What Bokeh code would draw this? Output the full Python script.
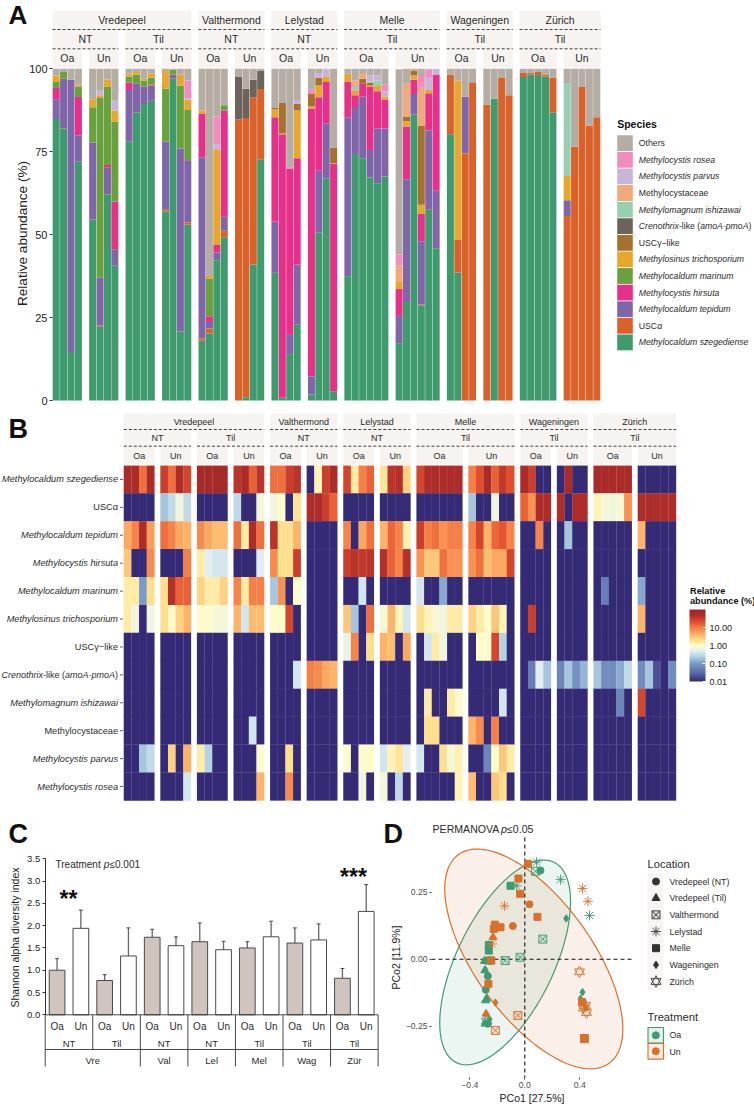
import numpy as np
from bokeh.embed import file_html
from bokeh.resources import INLINE
from bokeh.plotting import figure
from bokeh.layouts import column, row
from bokeh.models import (ColumnDataSource, Range1d, FixedTicker, NumeralTickFormatter,
                          LogColorMapper, ColorBar)
from bokeh.core.properties import value

F = "Liberation Sans"

# ---------- shared facet structure ----------
group_sizes = [4, 4, 4, 4, 4, 4, 4, 4, 6, 6, 4, 4, 5, 5]
group_treat = ["Oa", "Un"] * 7
group_till = ["NT", "NT", "Til", "Til", "NT", "NT", "NT", "NT", "Til", "Til", "Til", "Til", "Til", "Til"]
group_loc = ["Vredepeel"] * 4 + ["Valthermond"] * 2 + ["Lelystad"] * 2 + ["Melle"] * 2 + ["Wageningen"] * 2 + ["Zürich"] * 2

species_labels = ["Methylocaldum szegediense", "USCα", "Methylocaldum tepidum", "Methylocystis hirsuta",
                  "Methylocaldum marinum", "Methylosinus trichosporium", "USCγ−like",
                  "Crenothrix-like (amoA-pmoA)", "Methylomagnum ishizawai", "Methylocystaceae",
                  "Methylocystis parvus", "Methylocystis rosea", "Others"]
species_colors = ["#3F9A6E", "#D9622B", "#8066A8", "#E6308A", "#6AA13F", "#E7A62E", "#A6712C",
                  "#6E635A", "#97CFB0", "#EEAA7B", "#C6B5D9", "#F08DBD", "#B5ACA4"]

# ---------- panel A: relative abundance per sample (bottom to top) ----------
szegediense = [84.9, 82, 14.6, 72, 54.6, 22.4, 62.2, 40.6, 78, 86.9, 89.4, 90.4, 57, 97, 20.8, 53,
               18, 20.2, 42.3, 49.2, 0, 1, 41, 72.7, 38.5, .8, 14, 23, 1.8, 50.6, 67, 2.8,
               37.5, 74.3, 73, 67.2, 65.5, 67.5, 17.3, 29.7, 86.2, 28.7, 57.5, 45.9,
               80.3, 38.6, 0, 0, 0, 91, 0, 0, 97.5, 98.3, 98.1, 97.7, 86.9, 0, 0, 0, 0, 0]
usc_alpha = [0, 0, 0, 0, 0, .3, 0, 0, 0, 0, 0, 0, .5, 0, 0, .7,
             .7, 1.5, 0, 2, 84.7, 84.2, 50.4, 21.2, 0, 0, 0, 0, 0, 0, 0, 0,
             0, 0, 0, 0, 0, 0, 0, 0, 0, .2, 0, 0,
             18, 9.8, 74.5, 95.7, 89.2, 0, 97.2, 92, 1.2, .6, .9, .6, 10.4, 55.6, 76.5, 94.5, 82.8, 85.4]
tepidum = [5.8, 15, 82.1, 8, 23.2, 14.3, 8, 5, 15.6, 8.6, 5.1, 4.6, 20.5, 1.3, 55.2, 18.6,
           54.6, 2, 2.3, 4.2, 0, 0, 0, 0, 15.5, 0, 6, 18, 5.5, 18.7, 16.6, 0,
           47.9, 14.2, 18.6, 8.3, 16.5, 14.5, 8.2, 37, 6.2, 19.1, 23.9, 17.3,
           0, 0, 17.1, 0, 0, 0, 0, 0, 0, 0, 0, 0, 0, 4.8, 0, 0, 0, 0]
hirsuta = [3.5, 0, 0, 11.5, 0, 0, .8, 14.4, 2.3, 0, .2, .2, 0, 0, 0, .2,
           13.1, 1.7, 2.3, 32, 0, 0, 0, 0, 31.4, 79.5, 49.8, 32, 80.7, 22.1, 12.4, 68.5,
           10.8, 3.5, 3.9, 19, 11.2, 8.6, 8.1, 15.9, 4.3, 8.2, 11.2, 35.1,
           0, 0, 0, 0, 0, 0, 0, 0, 0, 0, 0, 0, 0, 0, 0, 0, 0, 0]
marinum = [1.8, 2, 0, 3.2, 10.6, 54.2, 23.7, 24, 1.8, 2.7, 1.8, 2.1, 16, 1.5, 19, 15.1,
           0, 11.2, 0, 1.6] + [0] * 42
trichosporium = [2, 0, 0, .5, 2.4, .8, 2.1, 3.4, .8, .8, .5, 1.2, 5.3, 0, 3.3, 3.1,
                 1, .9, 28.6, 0, 0, 0, 0, 0, 2.5, .2, 0, 14.4, .6, 3.6, 1.5, .2,
                 2.3, 1.5, 0, .5, 1.6, 1, 2.4, 1.6, 1.3, 2.8, 1, 0,
                 0, 48.1, 0, 0, 0, 0, 0, 0, 0, 0, 0, 0, 0, 7.3, 0, 0, 0, 0]
usc_gamma = [0] * 24 + [.3, 9.2, 0, 2, 3.8, 2.3, 0, 4.8, 0, 0, 1.5, .7, 0, 0, 0, 1.4, 1.5, 23.9, 0, 0] + [0] * 18
crenothrix = [0] * 20 + [12.8, 8.8, 5.3, 5.4] + [0] * 38
ishizawai = [0] * 32 + [0, 1.3, 0, .5, 1.7, 0] + [0] * 19 + [28, 0, 0, 0, 0]
cystaceae = [0] * 32 + [0, 1.7, 1.7, 0, 0, 0, 4.8, 9.9, 0, 11.4, 0, 0] + [0] * 18
parvus = [0] * 5 + [1.6, 0, 3] + [0] * 7 + [.3, 0, 0, 1.8] + [0] * 8 + [1.2, 0, 1.2, 2.3] + [0] * 4 + [1.8, 1.5, 1.6] + [0] * 4 + [3.7, 1.7] + [0] * 18
rosea = [0] * 15 + [5.5, 0, 0, 8.3] + [0] * 7 + [.5, 0, 1.3] + [0] * 8 + [2, 3.2, 0, 0, 3.5, 2.5] + [0] * 19
others = [2, 1, 3.3, 4.8, 9.2, 6.4, 3.2, 9.6, 1.5, 1, 3, 1.5, .7, .2, 1.7, 3.5,
          12.6, 62.5, 14.4, 11, 2.5, 6, 3.3, .7, 11.8, 10.3, 29.7, 9.4, 6.3, 1.5, .2, 23.7,
          1.5, 3.5, 1.3, 2, 2, 4.8, 55.9, 4.5, .5, 2.2, .2, 0,
          1.7, 3.5, 8.4, 4.3, 10.8, 9, 2.8, 8, 1.3, 1.1, 1, 1.7, 2.7, 4.3, 23.5, 5.5, 17.2, 14.6]
stack_series = [szegediense, usc_alpha, tepidum, hirsuta, marinum, trichosporium, usc_gamma,
                crenothrix, ishizawai, cystaceae, parvus, rosea, others]

# ---------- panel B: heat map rows (%), 0.01 = not detected ----------
N = 0.01
h_szeg = [60, 60, 12, 60, 30, 12, 50, 25, 65, 65, 65, 65, 40, 60, 15, 40, 12, 12, 30, 40, N, 1.2, 30, 60,
          25, 1.5, 10, 15, 1.8, 40, 45, 2.5, 25, 50, 50, 50, 50, 50, 10, 20, 55, 15, 35, 20,
          60, 30, N, N, N, 60, N, N, 60, 60, 60, 60, 60, N, N, N, N, N]
h_uscA = [N, N, N, N, .2, .3, .7, .3, N, N, N, N, .3, N, N, .8, .7, 1, N, 1.8, 50, 50, 30, 15,
          N, N, N, N, N, N, N, N, N, N, N, N, N, N, .2, N, N, .7, N, N,
          15, 7, 50, 50, 50, N, 50, 50, 1.2, .8, .7, .8, 7, 50, 50, 50, 50, 50]
h_tep = [5, 9, 50, 6, 12, 9, 5, 4, 8, 5, 3.5, 3.5, 12, 1.5, 50, 12, 40, 2, 2, 4, N, N, N, N,
         9, N, 5, 12, 4, 14, 9, 1.3, 30, 10, 12, 7, 10, 10, 9, 25, 4, 14, 18, 9,
         N, N, 9, N, N, .2, N, N, N, N, N, N, N, 4, N, N, N, N]
h_hir = [3, N, N, 8, N, N, N, 10, 1.5, .5, .4, .4, N, N, N, .5, 8, 2, 2, 30, N, N, N, N,
         30, 40, 35, 40, 45, 15, 9, 45, 7, 3, 3, 12, 7, 7, 7, 12, 3.5, 5, 5, 25,
         N, N, N, N, N, N, N, N, N, N, N, N, N, N, N, N, N, N]
h_mar = [1.5, 1.5, .1, 2, 2, 45, 15, 15, 2.5, 1.5, 1.5, 2.5, 9, 1.5, 10, 10, .2, 7, N, 1, N, N, N, N,
         N, N, .4, N, N, N, N, N, .4, N, N, .12, N, N, N, N, N, N, N, N,
         N, N, N, N, N, N, N, N, N, .05, N, N, N, .12, N, N, N, N]
h_tri = [1.5, .7, N, .7, 2, 1, 2.5, 4, 1, 1, .8, .8, 4, .4, 3.5, 3.5, 1, 1, 25, N, N, N, N, N,
         3, .2, N, 12, .8, 4, 1.2, .4, 2, 1.2, .8, .7, 1.5, 1.5, 2.5, 1.5, 1, 3, 1.2, N,
         N, 30, N, N, N, N, N, N, N, N, N, N, N, 4, N, N, N, N]
h_uscG = [N] * 24 + [.6, 9, N, 2, 4, 3.5, N, 5, N, .4, 1.5, .7, N, N, N, 1, 1, 25, .25, N] + [N] * 18
h_cren = [N] * 19 + [.4, 10, 8, 5, 4] + [N] * 20 + [N, .05, .5, .2, .06, .2, .08, .15, .2, .07, .07, .13, .3, .07, .2, .02, N, .07]
h_ishi = [N] * 33 + [1.5, N, N, 1.5, .9, N, N, N, N, .4, N] + [N] * 11 + [.06, N, 25, N, N, N, N]
h_cyst = [N] * 14 + [.4] + [N] * 18 + [2, 2, N, N, N, 4, 8, N, 10, N, N] + [N] * 18
h_parv = [N, N, .2, .3, N, 2.5, N, 4, 1.5, .25, N, N, N, N, N, 1, N, N, 2, N, N, N, N, N,
          1, N, 1, 1, .4, 1.2, 1.8, .5, .4, N, N, 2, .8, 1.3, N, N, .06, 1, 3, 1.5] + [N] * 18
h_rose = [N, N, N, N, N, N, N, .4, N, N, N, N, N, N, N, 4, N, N, 8, N, N, N, N, N,
          N, N, .7, N, .8, N, .3, N, N, N, N, N, N, 1.2, 3.5, N, N, 3, 2, N] + [N] * 18
heat_rows = [h_szeg, h_uscA, h_tep, h_hir, h_mar, h_tri, h_uscG, h_cren, h_ishi, h_cyst, h_parv, h_rose]
heat_labels = species_labels[:12]

# ---------- panel C ----------
shannon_oa = [1.0, .77, 1.74, 1.64, 1.5, 1.61, .82]
shannon_un = [1.94, 1.32, 1.55, 1.46, 1.75, 1.68, 2.32]
top_oa = [1.26, .9, 1.92, 2.06, 1.64, 1.95, 1.04]
top_un = [2.35, 1.95, 1.75, 1.65, 2.1, 2.04, 2.92]
c_till = ["NT", "Til", "NT", "NT", "Til", "Til", "Til"]
c_locs = ["Vre", "Val", "Lel", "Mel", "Wag", "Zür"]
c_loc_pairs = [2, 1, 1, 1, 1, 1]

# ---------- panel D: PCoA scores per location / treatment ----------
oa_vre_nt = ([.114, -.269, -.284, -.269], [.331, -.063, -.114, -.241])
oa_vre_til = ([-.286, -.279, -.289, -.291, -.294], [-.154, -.148, -.241, -.042, -.007])
oa_val = ([.078, .131, -.034, -.143], [.328, .075, .007, -.005])
oa_lel = ([.085, -.061, .26, .471], [.362, .274, .297, .163])
oa_mel = ([-.104, -.262, -.262, -.269, -.245], [.274, .053, .032, -.005, -.005])
oa_wag = ([.301, .42, .405, -.286, -.257], [.152, -.123, -.148, -.04, -.225])
oa_zur = ([-.279], [-.231])
un_vre_nt = ([.034, -.087], [.205, .124])
un_vre_til = ([-.231, -.282], [.082, -.204])
un_val = ([-.051, -.214, .434], [-.21, -.266, -.296])
un_lel = ([-.148, .42, .459, -.238], [.199, .264, .216, .057])
un_mel = ([.024, -.046, -.034, .092, -.218, -.226, -.177, -.245, -.265, .434, .417],
          [.356, .301, .244, .158, .129, .113, .119, -.005, -.092, -.296, -.16])
un_wag = ([-.214, .442], [-.162, -.179])
un_zur = ([.398, .442, .425, .449], [-.047, -.173, -.182, -.199])
loc_names = ["Vredepeel (NT)", "Vredepeel (Til)", "Valthermond", "Lelystad", "Melle", "Wageningen", "Zürich"]
oa_pts = [oa_vre_nt, oa_vre_til, oa_val, oa_lel, oa_mel, oa_wag, oa_zur]
un_pts = [un_vre_nt, un_vre_til, un_val, un_lel, un_mel, un_wag, un_zur]
GREEN, ORANGE = "#3F9A72", "#D8702C"
# ellipse: centre x, half width, centre y, half height, cos(phase)
ell_oa = (-.143, .476, -.012, .382, .592)
ell_un = (.0655, .648, .001, .41, -.637)

STRIP = "#F6F3F0"
TXT = "#2b2b2b"


def put(p, x, y, text, size, align="left", color=TXT, style="normal", angle=0.0):
    p.text(x=[x], y=[y], text=[text], text_font=value(F), text_font_size=size, text_align=align,
           text_baseline="middle", text_color=color, text_font_style=style, angle=angle)


def base(w, h, xr, yr):
    p = figure(width=w, height=h, output_backend="svg", toolbar_location=None,
               x_range=Range1d(*xr), y_range=Range1d(*yr),
               min_border_left=0, min_border_right=0, min_border_top=0, min_border_bottom=0)
    p.outline_line_color = None
    p.grid.visible = False
    return p


def layout_x(gap):
    """left/right edge of each facet group in bar units."""
    lefts, rights = [], []
    x = 0.0
    for n in group_sizes:
        lefts.append(x)
        rights.append(x + n)
        x += n + gap
    return lefts, rights


def strips(p, lefts, rights, rows, size):
    """rows = (y_loc_top, y_loc_bot, y_till_bot, y_treat_bot) in data units."""
    t0, t1, t2, t3 = rows
    dash_col = "#111111"
    for l, r, tr in zip(lefts, rights, group_treat):
        p.quad(left=[l], right=[r], bottom=[t3], top=[t2], fill_color=STRIP, line_color=None)
        put(p, (l + r) / 2, (t2 + t3) / 2, tr, size, "center")
    i = 0
    while i < len(group_sizes):
        j = i
        while j + 1 < len(group_sizes) and group_loc[j + 1] == group_loc[i] and group_till[j + 1] == group_till[i]:
            j += 1
        p.quad(left=[lefts[i]], right=[rights[j]], bottom=[t2], top=[t1], fill_color=STRIP, line_color=None)
        put(p, (lefts[i] + rights[j]) / 2, (t1 + t2) / 2, group_till[i], size, "center")
        p.segment(x0=[lefts[i]], x1=[rights[j]], y0=[t2], y1=[t2], line_color=dash_col, line_width=.8, line_dash="3 2")
        i = j + 1
    i = 0
    while i < len(group_sizes):
        j = i
        while j + 1 < len(group_sizes) and group_loc[j + 1] == group_loc[i]:
            j += 1
        p.quad(left=[lefts[i]], right=[rights[j]], bottom=[t1], top=[t0], fill_color=STRIP, line_color=None)
        put(p, (lefts[i] + rights[j]) / 2, (t0 + t1) / 2, group_loc[i], size, "center")
        p.segment(x0=[lefts[i]], x1=[rights[j]], y0=[t1], y1=[t1], line_color=dash_col, line_width=.8, line_dash="3 2")
        i = j + 1


def crenothrix_label(p, x, y, size_px, unit, right=False):
    ems = [4.612, 2.444, 5.557, .333]
    parts = ["Crenothrix", "-like (", "amoA-pmoA", ")"]
    styles = ["italic", "normal", "italic", "normal"]
    total = sum(ems) * size_px / unit
    cur = x - total if right else x
    for e, t, s in zip(ems, parts, styles):
        put(p, cur, y, t, f"{size_px}px", "left", style=s)
        cur += e * size_px / unit


def is_italic(name):
    return name.startswith("Methyl") and name != "Methylocystaceae"


def style_axis(ax, size, color, out):
    ax.major_tick_in = 0
    ax.major_tick_out = out
    ax.minor_tick_line_color = None
    ax.major_label_text_font = F
    ax.major_label_text_font_size = size
    ax.major_label_text_color = color
    ax.major_label_standoff = 2


HALF_PI = np.pi / 2

# ======================= PANEL A =======================
UA = 7.4
GAP_A = .927
XA = lambda px: (px - 52) / UA
YA = lambda py: (400 - py) / 3.317
pA = base(754, 410, (XA(0), XA(754)), (YA(410), YA(0)))
pA.xaxis.visible = False
pA.yaxis.fixed_location = 0
pA.yaxis.ticker = FixedTicker(ticks=[0, 25, 50, 75, 100])
pA.yaxis.axis_line_color = None
pA.yaxis.major_tick_line_color = "#333333"
style_axis(pA.yaxis[0], "11px", "#222222", 3)

lefts_a, rights_a = layout_x(GAP_A)
bar_x = []
for l, n in zip(lefts_a, group_sizes):
    bar_x += [l + k + .5 for k in range(n)]
names = [f"s{i}" for i in range(len(stack_series))]
src = ColumnDataSource({"x": bar_x, **{n: v for n, v in zip(names, stack_series)}})
pA.vbar_stack(names, x="x", width=.95, color=species_colors, source=src, line_color=None)
strips(pA, lefts_a, rights_a, (YA(10), YA(29), YA(48.3), YA(67.5)), "10.5px")
put(pA, XA(8), YA(14), "A", "26px", style="bold", color="#111111")
put(pA, XA(22), YA(233), "Relative abundance (%)", "13.6px", "center", "#222222", angle=HALF_PI)

put(pA, XA(616.7), YA(123.7), "Species", "10.5px", style="bold", color="#111111")
for i, (lab, col) in enumerate(zip(species_labels[::-1], species_colors[::-1])):
    cy = 142.7 + 16.6 * i
    pA.quad(left=[XA(616.7)], right=[XA(632.3)], top=[YA(cy - 7.9)], bottom=[YA(cy + 7.9)], fill_color=col, line_color=None)
    if lab.startswith("Crenothrix"):
        crenothrix_label(pA, XA(638.3), YA(cy), 8.7, UA)
    else:
        put(pA, XA(638.3), YA(cy), lab, "8.7px", style="italic" if is_italic(lab) else "normal")

# ======================= PANEL B =======================
UB = 7.67
GAP_B = .77
XB = lambda px: (px - 123.3) / UB
YB = lambda py: (800 - py) / 27.92
pB = base(754, 400, (XB(0), XB(754)), (YB(810), YB(410)))
pB.xaxis.visible = False
pB.yaxis.visible = False
lefts_b, rights_b = layout_x(GAP_B)
col_x = []
for l, n in zip(lefts_b, group_sizes):
    col_x += [l + k + .5 for k in range(n)]

anchors = [(-2, "#352A75"), (-1.5, "#5B6CAA"), (-1, "#7A9CC8"), (-.6, "#B5D3E4"), (-.3, "#E4EFF2"), (0, "#FFFBC9"),
           (.3, "#FEE08F"), (.6, "#FDB568"), (1, "#F47E47"), (1.3, "#E24F2D"), (1.7, "#AE2C29"), (2, "#9E2727")]
pos = np.array([a[0] for a in anchors], float)
rgb = np.array([[int(a[1][k:k + 2], 16) for k in (1, 3, 5)] for a in anchors], float)
t = np.linspace(-2, 2, 256)
palette = ["#%02x%02x%02x" % tuple(int(round(np.interp(tt, pos, rgb[:, c]))) for c in range(3)) for tt in t]
mapper = LogColorMapper(palette=palette, low=.01, high=100)

hx, hy, hv = [], [], []
for i, rowv in enumerate(heat_rows):
    hx += col_x
    hy += [11.5 - i] * len(col_x)
    hv += rowv
pB.rect(x="x", y="y", width=1.02, height=1.01, source=ColumnDataSource(dict(x=hx, y=hy, v=hv)),
        fill_color={"field": "v", "transform": mapper}, line_color=None)
strips(pB, lefts_b, rights_b, (YB(413), YB(429), YB(445.7), YB(465)), "9px")
put(pB, XB(8), YB(428), "B", "27px", style="bold", color="#111111")
for i, lab in enumerate(heat_labels):
    yy = 11.5 - i
    pB.segment(x0=[XB(119.5)], x1=[XB(122.5)], y0=[yy], y1=[yy], line_color="#333333", line_width=.8)
    if lab.startswith("Crenothrix"):
        crenothrix_label(pB, XB(117.5), yy, 9.0, UB, right=True)
    else:
        put(pB, XB(117.5), yy, lab, "9.2px", "right", style="italic" if is_italic(lab) else "normal")
cb = ColorBar(color_mapper=mapper, ticker=FixedTicker(ticks=[.01, .1, 1, 10]),
              formatter=NumeralTickFormatter(format="0.00"), width=16, height=72,
              location=(689, 129), padding=0, margin=0, major_label_text_font=F,
              major_label_text_font_size="9px", major_label_text_color="#222222", label_standoff=4,
              major_tick_line_color="white", major_tick_in=3, minor_tick_line_color=None,
              bar_line_color=None, background_fill_color=None, border_line_color=None)
pB.add_layout(cb)
put(pB, XB(689.5), YB(590.5), "Relative", "9.2px", style="bold", color="#111111")
put(pB, XB(689.5), YB(600.5), "abundance (%)", "9.2px", style="bold", color="#111111")

# ======================= PANEL C =======================
UC = 23.78
XC = lambda px: (px - 44.7) / UC
YC = lambda py: (1014.3 - py) / 44.57
pC = base(383, 294, (XC(0), XC(383)), (YC(1104), YC(810)))
pC.xaxis.visible = False
pC.yaxis.fixed_location = 0
pC.yaxis.ticker = FixedTicker(ticks=[0, .5, 1, 1.5, 2, 2.5, 3, 3.5])
pC.yaxis.bounds = (0, 3.5)
pC.yaxis.formatter = NumeralTickFormatter(format="0.0")
pC.yaxis.axis_line_color = "#333333"
pC.yaxis.major_tick_line_color = "#333333"
style_axis(pC.yaxis[0], "9.5px", "#222222", 3)

n_pairs = len(shannon_oa)
cx = [i * 2 + .5 for i in range(n_pairs)]
ux = [i * 2 + 1.5 for i in range(n_pairs)]
OUT = "#4a4a4a"
pC.segment(x0=cx + ux, x1=cx + ux, y0=shannon_oa + shannon_un, y1=top_oa + top_un, line_color="#666666", line_width=1.3)
pC.segment(x0=[v - .08 for v in cx + ux], x1=[v + .08 for v in cx + ux], y0=top_oa + top_un, y1=top_oa + top_un, line_color="#444444", line_width=1)
pC.vbar(x=cx, top=shannon_oa, bottom=0, width=.66, fill_color="#CFC5BE", line_color=OUT, line_width=1)
pC.vbar(x=ux, top=shannon_un, bottom=0, width=.66, fill_color="white", line_color=OUT, line_width=1)

y_oa, y_nt, y_loc = YC(1026), YC(1042.7), YC(1060)
y_line, y_end = YC(1049), YC(1066)
LINE = "#333333"
pC.segment(x0=[0, 0], x1=[2 * n_pairs, 2 * n_pairs], y0=[0, y_line], y1=[0, y_line], line_color=LINE, line_width=.9)
for i in range(n_pairs):
    put(pC, cx[i], y_oa, "Oa", "10px", "center")
    put(pC, ux[i], y_oa, "Un", "10px", "center")
    put(pC, i * 2 + 1, y_nt, c_till[i], "9.5px", "center")
edge = 0
seps = [0]
for lab, k in zip(c_locs, c_loc_pairs):
    put(pC, edge + k, y_loc, lab, "9.5px", "center")
    edge += 2 * k
    seps.append(edge)
pC.segment(x0=seps, x1=seps, y0=[0] * len(seps), y1=[y_end] * len(seps), line_color=LINE, line_width=.9)
pC.segment(x0=[2], x1=[2], y0=[0], y1=[y_line], line_color=LINE, line_width=.9)

put(pC, XC(8), YC(833), "C", "27px", style="bold", color="#111111")
put(pC, XC(14), YC(937), "Shannon alpha diversity index", "10.5px", "center", "#222222", angle=HALF_PI)
put(pC, XC(55), YC(864), "Treatment ", "10px")
put(pC, XC(103.3), YC(864), "p", "10px", style="italic")
put(pC, XC(109), YC(864), "≤0.001", "10px")
put(pC, XC(68), YC(898), "**", "23px", "center", style="bold", color="#111111")
put(pC, XC(353), YC(876), "***", "23px", "center", style="bold", color="#111111")

# ======================= PANEL D =======================
UDX, UDY = 137.4, 268.0
XD = lambda px: (px - 524.3) / UDX
YD = lambda py: (958.7 - py) / UDY
pD = base(371, 294, (XD(383), XD(754)), (YD(1104), YD(810)))
pD.xaxis.fixed_location = YD(1077)
pD.yaxis.fixed_location = XD(431)
for ax, ticks, ov in ((pD.xaxis[0], [-.4, 0, .4], {-.4: "−0.4", 0: "0.0", .4: "0.4"}),
                      (pD.yaxis[0], [-.25, 0, .25], {-.25: "−0.25", 0: "0.00", .25: "0.25"})):
    ax.ticker = FixedTicker(ticks=ticks)
    ax.major_label_overrides = ov
    ax.axis_line_color = None
    ax.major_tick_line_color = "#444444"
    style_axis(ax, "8.6px", "#4d4d4d", 2)
put(pD, XD(531.5), YD(1097.5), "PCo1 [27.5%]", "10.5px", "center", "#222222")
put(pD, XD(395), YD(957), "PCo2 [11.9%]", "10.5px", "center", "#222222", angle=HALF_PI)

tt = np.linspace(0, 2 * np.pi, 181)
for (ecx, erx, ecy, ery, cp), col in ((ell_oa, GREEN), (ell_un, ORANGE)):
    phi = np.arccos(cp)
    pD.patch(ecx + erx * np.cos(tt), ecy + ery * np.cos(tt - phi), fill_color=col, fill_alpha=.1,
             line_color=col, line_width=1.2)
pD.segment(x0=[0, XD(431)], x1=[0, XD(632)], y0=[YD(837), 0], y1=[YD(1077), 0], line_color="#111111",
           line_width=1.1, line_dash="4 3")


def marks(p, i, xs, ys, col):
    kw = dict(x=xs, y=ys)
    if i == 0:
        p.scatter(marker="circle", size=7, fill_color=col, line_color=col, **kw)
    elif i == 1:
        p.scatter(marker="triangle", size=8, fill_color=col, line_color=col, **kw)
    elif i == 2:
        p.scatter(marker="square_x", size=8, fill_color=col, fill_alpha=.15, line_color=col, line_width=.9, **kw)
    elif i == 3:
        p.scatter(marker="asterisk", size=10, line_color=col, line_width=.9, **kw)
    elif i == 4:
        p.scatter(marker="square", size=7, fill_color=col, line_color=col, **kw)
    elif i == 5:
        p.scatter(marker="diamond", size=7.5, fill_color=col, line_color=col, **kw)
    else:
        p.scatter(marker="triangle", size=10, fill_color=None, line_color=col, line_width=.9, **kw)
        p.scatter(marker="inverted_triangle", size=10, fill_color=None, line_color=col, line_width=.9, **kw)


for i, (xs, ys) in enumerate(oa_pts):
    marks(pD, i, xs, ys, GREEN)
for i, (xs, ys) in enumerate(un_pts):
    marks(pD, i, xs, ys, ORANGE)

put(pD, XD(383), YD(833), "D", "27px", style="bold", color="#111111")
put(pD, XD(432), YD(828), "PERMANOVA ", "10.6px")
put(pD, XD(500.6), YD(828), "p", "10.6px", style="italic")
put(pD, XD(506.5), YD(828), "≤0.05", "10.6px")

# panel D legends
put(pD, XD(647), YD(863), "Location", "11.2px")
pD.quad(left=[XD(647)], right=[XD(663)], top=[YD(873)], bottom=[YD(990)], fill_color="#F7F5F3", line_color=None)
for i, nm in enumerate(loc_names):
    yy = 881 + 16.67 * i
    marks(pD, i, [XD(655.5)], [YD(yy)], "#333333")
    put(pD, XD(669), YD(yy), nm, "8.8px")
put(pD, XD(647), YD(1016), "Treatment", "11.2px")
for lab, col, top, txt_y in (("Oa", GREEN, 1027, 1034.5), ("Un", ORANGE, 1043, 1051)):
    pD.quad(left=[XD(647.5)], right=[XD(663)], top=[YD(top)], bottom=[YD(top + 15.6)], fill_color=col, fill_alpha=.14,
            line_color=col, line_width=1.1)
    pD.scatter(x=[XD(655.3)], y=[YD(top + 7.8)], marker="circle", size=7, fill_color=col, line_color=col)
    put(pD, XD(669), YD(txt_y), lab, "8.8px")

layout = column(pA, pB, row(pC, pD, spacing=0), spacing=0)
open("out.html", "w").write(file_html(layout, INLINE))
